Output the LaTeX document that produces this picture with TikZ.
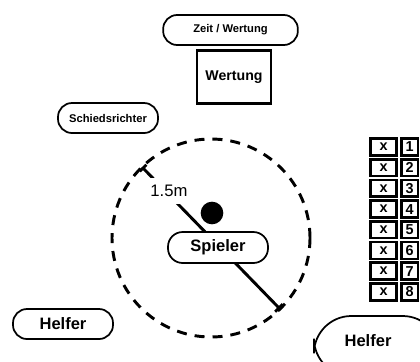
\documentclass[tikz,border=0pt]{standalone}
\usepackage{fontspec}
\setmainfont{Liberation Sans}
\usetikzlibrary{arrows.meta}
\begin{document}
\begin{tikzpicture}[x=0.75pt,y=-0.75pt,
  pill/.style={draw, line width=1.3pt, fill=white, rounded corners=10.5pt,
    inner sep=0pt, minimum width=75pt, minimum height=22.5pt},
  smalltext/.style={font=\bfseries\fontsize{8.4}{10}\selectfont},
  bigtext/.style={font=\bfseries\fontsize{12.4}{14}\selectfont},
  cellbox/.style={draw, line width=2pt, inner sep=0pt, minimum height=12.6pt,
    font=\bfseries\fontsize{10.8}{12}\selectfont},
  ringline/.style={line width=2.2pt, dash pattern=on 7.5pt off 6pt},
  dimline/.style={line width=2.2pt, {Bar[width=7pt]}-{Bar[width=8pt]}}]
\useasboundingbox (0,0) rectangle (420,361);
\clip (0,0) rectangle (420,361);

% scoring area
\node[pill, smalltext, minimum width=101pt] (zeit) at (230.5,30) {Zeit / Wertung};
\node[draw, line width=2pt, inner sep=0pt, minimum width=55.5pt, minimum height=40pt,
  font=\bfseries\fontsize{10.6}{12}\selectfont] (wertung) at (234,77) {Wertung};

% referee
\node[pill, smalltext] (schiri) at (108,118) {Schiedsrichter};

% playing circle with diameter marking
\coordinate (mid) at (211,238);
\coordinate (dA) at (142,167);
\coordinate (dB) at (280,309);
\draw[ringline] (mid) circle[radius=99];
\draw[dimline] (dA) -- (dB);
\node[fill=white, inner xsep=1pt, inner ysep=5.5pt,
  font=\fontsize{12.5}{14}\selectfont] (dim) at (169,191) {1.5m};
\node[circle, fill=black, inner sep=0pt, minimum size=17pt] (ball) at (212,213) {};
\node[pill, bigtext, minimum height=23.25pt, rounded corners=11pt] (spieler) at (218,247.5) {Spieler};

% helpers
\node[pill, bigtext] (helferL) at (63,324) {Helfer};
\node[draw, line width=1.3pt, fill=white, rounded corners=28pt, inner sep=0pt,
  minimum width=94.5pt, minimum height=45pt] (helferBox) at (377,346) {};
\node[bigtext] (helferR) at (368,341) {Helfer};

% score list
\foreach \i in {1,...,8}{
  \node[cellbox, minimum width=19.5pt] (xcell\i) at (383.5,{136.6+20.7*(\i-0.5)}) {x};
  \node[cellbox, minimum width=12.5pt] (ncell\i) at (409.5,{136.6+20.7*(\i-0.5)}) {\i};
}
\end{tikzpicture}
\end{document}
